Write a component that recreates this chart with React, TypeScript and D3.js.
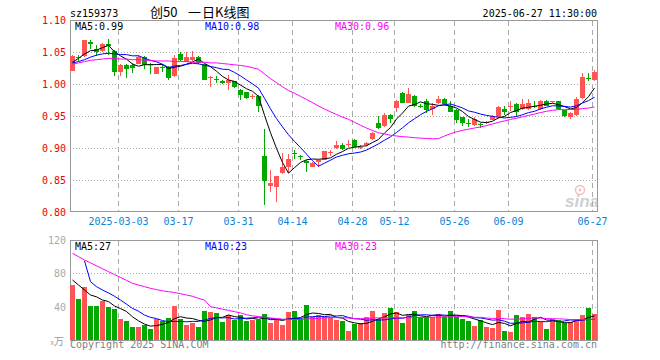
import React from 'react'
import * as d3 from 'd3'

// daily bars, 2025-02-19 .. 2025-06-27 (sz159373)
const opens = [
  1.021, 1.042, 1.043, 1.066, 1.055, 1.051, 1.063, 1.052, 1.018, 1.030,
  1.029, 1.032, 1.042, 1.031, 1.016, 1.026, 1.026, 1.012, 1.047, 1.035,
  1.037, 1.042, 1.031, 1.010, 1.008, 1.005, 1.001, 1.004, 0.991, 0.987,
  0.980, 0.982, 0.887, 0.840, 0.839, 0.861, 0.871, 0.892, 0.887, 0.880,
  0.871, 0.878, 0.882, 0.892, 0.900, 0.905, 0.906, 0.913, 0.901, 0.904,
  0.914, 0.939, 0.934, 0.952, 0.962, 0.986, 0.971, 0.982, 0.966, 0.974,
  0.961, 0.970, 0.977, 0.966, 0.960, 0.948, 0.939, 0.936, 0.937, 0.939,
  0.944, 0.948, 0.961, 0.965, 0.969, 0.961, 0.961, 0.966, 0.961, 0.974,
  0.972, 0.973, 0.959, 0.949, 0.951, 0.978, 1.009, 1.007,
]
const highs = [
  1.045, 1.046, 1.069, 1.068, 1.061, 1.064, 1.071, 1.053, 1.031, 1.031,
  1.033, 1.046, 1.043, 1.033, 1.027, 1.031, 1.028, 1.046, 1.050, 1.050,
  1.051, 1.043, 1.032, 1.012, 1.012, 1.006, 1.014, 1.005, 0.992, 0.988,
  0.985, 0.983, 0.929, 0.866, 0.857, 0.892, 0.890, 0.897, 0.889, 0.881,
  0.878, 0.882, 0.896, 0.897, 0.911, 0.908, 0.912, 0.914, 0.905, 0.909,
  0.925, 0.950, 0.954, 0.953, 0.975, 0.987, 0.994, 0.983, 0.968, 0.977,
  0.970, 0.982, 0.978, 0.973, 0.961, 0.949, 0.945, 0.948, 0.939, 0.942,
  0.951, 0.965, 0.965, 0.974, 0.970, 0.977, 0.977, 0.974, 0.975, 0.975,
  0.974, 0.974, 0.960, 0.957, 0.979, 1.017, 1.017, 1.022,
]
const lows = [
  1.020, 1.036, 1.042, 1.055, 1.043, 1.050, 1.045, 1.013, 1.012, 1.010,
  1.017, 1.031, 1.024, 1.015, 1.015, 1.019, 1.006, 1.011, 1.036, 1.034,
  1.036, 1.032, 1.006, 0.995, 1.001, 1.000, 0.990, 0.994, 0.975, 0.976,
  0.977, 0.957, 0.811, 0.832, 0.815, 0.860, 0.861, 0.883, 0.881, 0.862,
  0.870, 0.870, 0.881, 0.887, 0.898, 0.897, 0.901, 0.901, 0.898, 0.903,
  0.913, 0.930, 0.933, 0.939, 0.957, 0.970, 0.970, 0.964, 0.962, 0.955,
  0.952, 0.969, 0.967, 0.956, 0.939, 0.934, 0.933, 0.935, 0.931, 0.938,
  0.943, 0.947, 0.952, 0.958, 0.949, 0.960, 0.960, 0.962, 0.960, 0.965,
  0.971, 0.960, 0.949, 0.946, 0.950, 0.977, 1.005, 1.004,
]
const closes = [
  1.044, 1.041, 1.068, 1.062, 1.050, 1.063, 1.059, 1.018, 1.030, 1.024,
  1.025, 1.042, 1.030, 1.029, 1.026, 1.025, 1.010, 1.041, 1.037, 1.042,
  1.042, 1.033, 1.007, 1.011, 1.007, 1.001, 1.006, 0.995, 0.983, 0.978,
  0.981, 0.966, 0.848, 0.846, 0.856, 0.871, 0.883, 0.891, 0.886, 0.877,
  0.877, 0.881, 0.895, 0.893, 0.905, 0.898, 0.907, 0.902, 0.902, 0.908,
  0.924, 0.931, 0.952, 0.945, 0.974, 0.971, 0.985, 0.965, 0.965, 0.960,
  0.966, 0.977, 0.968, 0.957, 0.944, 0.939, 0.938, 0.945, 0.936, 0.940,
  0.950, 0.964, 0.957, 0.966, 0.956, 0.968, 0.971, 0.965, 0.974, 0.966,
  0.973, 0.961, 0.950, 0.955, 0.977, 1.011, 1.008, 1.018,
]
// volume, 万
const volumes = [
  66, 48.8, 63.6, 40.4, 40.4, 46.8, 39.6, 36.8, 25.2, 22.4,
  15.2, 15.2, 17.6, 12.8, 25.6, 23.2, 26, 40.4, 24.8, 17.6,
  20, 15.2, 34.4, 33.2, 32, 21.2, 29.6, 24, 29.6, 22.4,
  24, 24, 31.6, 20, 24, 17.6, 33.2, 34.4, 25.6, 41.6,
  27.2, 30.4, 27.2, 27.2, 24, 22.4, 10.4, 19.2, 20.8, 27.2,
  34.4, 24.8, 32, 38, 33.2, 20, 29.6, 34.4, 28, 28,
  28, 30.8, 28, 34.4, 28, 24.8, 22.4, 16.4, 23.6, 15.6,
  14, 35.6, 10.8, 9.2, 29.6, 27.2, 30.8, 28, 21.2, 12.8,
  25.6, 23.6, 20.4, 22, 24.8, 29.6, 38, 30.8,
]

// averages before the window is full (they include days before the chart)
const ma5Head = [1.034, 1.040, 1.047, 1.052]
const ma10Head = [1.033, 1.035, 1.038, 1.042, 1.045, 1.047, 1.048, 1.047, 1.046]
const ma30Head = [
  1.031, 1.033, 1.035, 1.037, 1.038, 1.039, 1.040, 1.040, 1.039, 1.039,
  1.038, 1.038, 1.037, 1.037, 1.036, 1.036, 1.036, 1.035, 1.035, 1.035,
  1.034, 1.034, 1.034, 1.033, 1.033, 1.032, 1.031, 1.030, 1.029,
]
const vma5Head = [72, 66, 60, 54]
const vma10Head = [null, null, 95, 70, 64, 60, 56.5, 52.5, 48]
const vma30Head = [
  104, 100, 96, 92.5, 89, 85.5, 82, 78.5, 75, 71.5,
  68, 66, 64, 62, 60.5, 59, 58, 57, 55.5, 54,
  52.5, 50, 48, 40, 38.5, 37, 35.5, 34, 32.5,
]

const tickIndex = [8, 18, 28, 37, 47, 54, 64, 73, 87]
const tickLabels = ['2025-03-03', '03-17', '03-31', '04-14', '04-28', '05-12', '05-26', '06-09', '06-27']
const priceTicks = [1.1, 1.05, 1.0, 0.95, 0.9, 0.85, 0.8]
const volTicks = [120, 80, 40]
const priceLegend = ['0.99', '0.98', '0.96']
const volLegend = ['27', '23', '23']

const RED = '#ff5555'
const GREEN = '#00a800'
const MA_COLORS = ['#000000', '#0000ff', '#ff00ff']
const MONO = '"DejaVu Sans Mono", monospace'
const CJK = '"Noto Sans CJK SC", sans-serif'

function movingAverage(values: number[], n: number, head: (number | null)[]) {
  return values.map((_, i) => (i < n - 1 ? head[i] : (d3.mean(values.slice(i - n + 1, i + 1)) as number)))
}

export default function App() {
  const idx = d3.range(closes.length)
  const x = d3.scaleBand<number>().domain(idx).range([70, 598])
  const y = d3.scaleLinear().domain([0.8, 1.1]).range([212, 20])
  const yv = d3.scaleLinear().domain([0, 120]).range([340, 240])
  const cx = (i: number) => (x(i) as number) + 2.5

  const priceMA = [
    movingAverage(closes, 5, ma5Head),
    movingAverage(closes, 10, ma10Head),
    movingAverage(closes, 30, ma30Head),
  ]
  const volMA = [
    movingAverage(volumes, 5, vma5Head),
    movingAverage(volumes, 10, vma10Head),
    movingAverage(volumes, 30, vma30Head),
  ]

  const pLine = d3
    .line<number | null>()
    .defined((d) => d != null)
    .x((_, i) => cx(i))
    .y((d) => y(d as number))
  const vLine = d3
    .line<number | null>()
    .defined((d) => d != null)
    .x((_, i) => cx(i))
    .y((d) => yv(d as number))

  const up = (i: number) => closes[i] >= opens[i]
  const grid = '#aaaaaa'

  return (
    <svg
      width={660}
      height={360}
      style={{ position: 'absolute', left: 0, top: 0, background: '#fff' }}
      fontFamily={MONO}
      fontSize={10}
    >
      <defs>
        <clipPath id="pclip">
          <rect x={70} y={20} width={528} height={192} />
        </clipPath>
        <clipPath id="vclip">
          <rect x={70} y={240} width={528} height={101} />
        </clipPath>
      </defs>

      {/* header */}
      <text x={70} y={16.5}>sz159373</text>
      <text y={17} fontFamily={CJK} fontSize={13}>
        <tspan x={150}>创50</tspan>
        <tspan x={188}>一</tspan>
        <tspan x={202}>日K线图</tspan>
      </text>
      <text x={597} y={16.5} textAnchor="end">2025-06-27 11:30:00</text>

      {/* grid + frames */}
      <g shapeRendering="crispEdges">
        {priceTicks.slice(1, -1).map((p) => (
          <line key={p} x1={70} x2={597} y1={Math.round(y(p)) + 0.5} y2={Math.round(y(p)) + 0.5}
            stroke={grid} strokeDasharray="1,2" />
        ))}
        {tickIndex.map((i) => (
          <g key={i}>
            <line x1={(x(i) as number) + 0.5} x2={(x(i) as number) + 0.5} y1={21} y2={211}
              stroke={grid} strokeDasharray="5,4" />
            <line x1={(x(i) as number) + 0.5} x2={(x(i) as number) + 0.5} y1={241} y2={340}
              stroke={grid} strokeDasharray="5,4" />
          </g>
        ))}
        {volTicks.slice(1).map((v) => (
          <line key={v} x1={70} x2={597} y1={Math.round(yv(v)) + 0.5} y2={Math.round(yv(v)) + 0.5}
            stroke={grid} strokeDasharray="1,2" />
        ))}
        <rect x={70.5} y={20.5} width={527} height={191} fill="none" stroke="#999" />
        <rect x={70.5} y={240.5} width={527} height={100} fill="none" stroke="#999" />
      </g>

      {/* axis labels */}
      {priceTicks.map((p) => (
        <text key={p} x={66} y={y(p) + 3.5} textAnchor="end" fill="#ee0000">
          {d3.format('.2f')(p)}
        </text>
      ))}
      {tickIndex.map((i, k) => (
        <text key={i} x={(x(i) as number) + 0.5} y={225} textAnchor="middle" fill="#0a84d6">
          {tickLabels[k]}
        </text>
      ))}
      {volTicks.map((v) => (
        <text key={v} x={66} y={yv(v) + 4} textAnchor="end" fill="#aaaaaa">
          {v}
        </text>
      ))}
      <text x={64} y={345} textAnchor="end" fill="#999" fontFamily={CJK} fontSize={10}>
        <tspan fontSize={7}>x</tspan>万
      </text>

      {/* sina watermark */}
      <g opacity={0.55}>
        <circle cx={580} cy={190} r={4.5} fill="none" stroke="#e88" strokeWidth={1.5} />
        <circle cx={580} cy={190} r={1.5} fill="#e88" />
        <text x={565} y={207} fontFamily='"Liberation Sans", sans-serif' fontStyle="italic"
          fontWeight="bold" fontSize={17} fill="#aaa">
          sina
        </text>
      </g>

      {/* candles */}
      <g clipPath="url(#pclip)" shapeRendering="crispEdges">
        {idx.map((i) => {
          const c = up(i) ? RED : GREEN
          const yo = Math.round(y(opens[i]))
          const yc = Math.round(y(closes[i]))
          return (
            <g key={i}>
              <line x1={cx(i)} x2={cx(i)} y1={Math.round(y(highs[i]))} y2={Math.round(y(lows[i]))} stroke={c} />
              <rect x={x(i)} y={Math.min(yo, yc)} width={5} height={Math.max(1, Math.abs(yo - yc))} fill={c} />
            </g>
          )
        })}
      </g>
      <g clipPath="url(#pclip)" fill="none">
        {priceMA.map((m, k) => (
          <path key={k} d={pLine(m) as string} stroke={MA_COLORS[k]} strokeWidth={1} />
        ))}
      </g>

      {/* volume */}
      <g clipPath="url(#vclip)" shapeRendering="crispEdges">
        {idx.map((i) => {
          const top = Math.round(yv(volumes[i]))
          return <rect key={i} x={x(i)} y={top} width={5} height={340 - top} fill={up(i) ? RED : GREEN} />
        })}
      </g>
      <g clipPath="url(#vclip)" fill="none">
        {volMA.map((m, k) => (
          <path key={k} d={vLine(m) as string} stroke={MA_COLORS[k]} strokeWidth={1} />
        ))}
      </g>

      {/* legends */}
      {['MA5', 'MA10', 'MA30'].map((n, k) => (
        <g key={n} fill={MA_COLORS[k]}>
          <text x={75 + k * 130} y={29.5}>{`${n}:${priceLegend[k]}`}</text>
          <text x={75 + k * 130} y={250}>{`${n}:${volLegend[k]}`}</text>
        </g>
      ))}

      {/* footer */}
      <text x={70} y={348} fill="#808080">Copyright 2025 SINA.COM</text>
      <text x={597} y={348} textAnchor="end" fill="#808080">http://finance.sina.com.cn</text>
    </svg>
  )
}
